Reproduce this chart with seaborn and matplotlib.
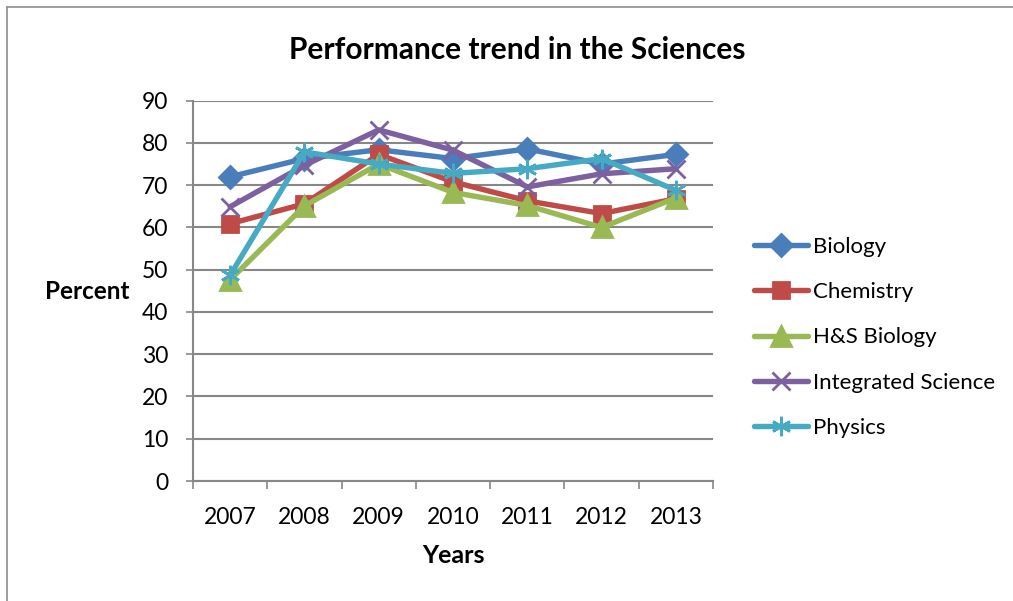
import pandas as pd
import seaborn as sns
import matplotlib.pyplot as plt
from matplotlib.lines import Line2D

# Values
years = [2007, 2008, 2009, 2010, 2011, 2012, 2013]
subjects = ['Biology', 'Chemistry', 'H&S Biology', 'Integrated Science', 'Physics']
biology = [72.0, 76.3, 78.4, 76.3, 78.6, 75.0, 77.3]
chemistry = [60.9, 65.6, 77.3, 70.8, 66.3, 63.3, 66.8]
hs_biology = [47.6, 65.1, 75.0, 68.3, 65.2, 60.0, 67.0]
integrated_science = [64.9, 74.7, 83.1, 78.3, 69.6, 72.7, 73.9]
physics = [48.7, 77.9, 75.0, 72.8, 73.9, 76.3, 68.8]
y_ticks = [0, 10, 20, 30, 40, 50, 60, 70, 80, 90]

colors = ['#4A7EBB', '#BE4B48', '#98B954', '#7D60A0', '#46AAC5']
markers = ['D', 's', '^', 'x', (6, 2, 0)]
marker_sizes = [11.5, 11.5, 14, 13, 14]

series = [biology, chemistry, hs_biology, integrated_science, physics]
df = pd.DataFrame({
    'Year': years * len(subjects),
    'Percent': [v for s in series for v in s],
    'Subject': [name for name in subjects for _ in years],
})

sns.set_style('white')
plt.rcParams['font.family'] = ['Lato', 'DejaVu Sans']
plt.rcParams['text.color'] = 'black'
plt.rcParams['xtick.color'] = 'black'
plt.rcParams['ytick.color'] = 'black'
plt.rcParams['axes.labelcolor'] = 'black'
FS = 16.5

fig = plt.figure(figsize=(10.13, 6.01), dpi=100)
ax = fig.add_axes([193 / 1013, 1 - 481 / 601, 520 / 1013, 380.3 / 601])

sns.lineplot(data=df, x='Year', y='Percent', hue='Subject',
             hue_order=subjects, palette=dict(zip(subjects, colors)),
             marker='o', linewidth=3.9, legend=False, ax=ax)

# Excel-style markers: same colour for fill and edge
for line, c, m, ms in zip(ax.lines, colors, markers, marker_sizes):
    line.set_marker(m)
    line.set_markersize(ms)
    line.set_markeredgecolor(c)
    line.set_markerfacecolor(c)
    line.set_markeredgewidth(2)
    line.set_solid_joinstyle('round')

ax.set_ylim(0, 90)
ax.set_xlim(2006.5, 2013.5)
ax.set_yticks(y_ticks)
ax.set_xticks(years)
ax.set_xticks([y + 0.5 for y in [2006] + years], minor=True)
grid_col = '#878787'
ax.yaxis.grid(True, color=grid_col, linewidth=1.5)
ax.xaxis.grid(False)
ax.set_axisbelow(True)
for side in ['top', 'right']:
    ax.spines[side].set_visible(False)
ax.spines['left'].set_color(grid_col)
ax.spines['left'].set_linewidth(1.5)
ax.spines['bottom'].set_color(grid_col)
ax.spines['bottom'].set_linewidth(1.5)
ax.tick_params(axis='y', left=True, length=5, width=1.2, color=grid_col,
               labelcolor='black', pad=13, labelsize=FS)
ax.tick_params(axis='x', which='major', bottom=False, length=0, pad=19,
               labelcolor='black', labelsize=FS)
ax.tick_params(axis='x', which='minor', bottom=True, length=5.5, width=1.2, color=grid_col)

ax.set_xlabel('Years', fontsize=18, fontweight='bold', va='center')
ax.xaxis.set_label_coords(0.5, -0.196)
ax.set_ylabel('Percent', fontsize=17.5, fontweight='bold', rotation=0,
              ha='center', va='center')
ax.yaxis.set_label_coords(-0.204, 0.497)

fig.text(517 / 1013, 1 - 50 / 601, 'Performance trend in the Sciences',
         fontsize=21.5, fontweight='bold', ha='center', va='center')

ax.legend(ax.lines[:len(subjects)], subjects, loc='center left',
          bbox_to_anchor=(754 / 1013, 1 - 337.5 / 601),
          bbox_transform=fig.transFigure, frameon=False, fontsize=16,
          handlelength=2.45, handletextpad=0.2, labelspacing=1.14,
          borderpad=0, borderaxespad=0)

# outer chart frame (only top and left edges are visible in the crop)
border = '#8C8C8C'
fig.add_artist(Line2D([6.5 / 1013, 6.5 / 1013], [0, 1 - 7 / 601],
                      transform=fig.transFigure, color=border, linewidth=1.2))
fig.add_artist(Line2D([6.5 / 1013, 1], [1 - 7 / 601, 1 - 7 / 601],
                      transform=fig.transFigure, color=border, linewidth=1.2))

fig.savefig('out.png', dpi=100)
